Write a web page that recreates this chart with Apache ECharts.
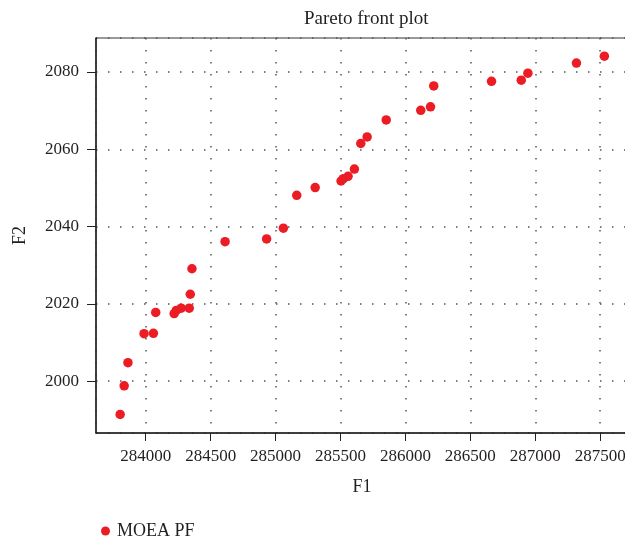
<!DOCTYPE html>
<html>
<head>
    <meta charset="utf-8">
    <style>
        body{ margin:0; padding:0; }
        #chart{ width:625px; height:542px; }
    </style>
</head>
<body>
    <div id="chart"></div>
    <script src="https://cdn.jsdelivr.net/npm/echarts@6/dist/echarts.min.js"></script>
    <script>
        // Pareto front points
        var f1 = [283803, 283834, 283863, 283987, 284059, 284077, 284219, 284235,
                  284273, 284335, 284343, 284356, 284611, 284931, 285060, 285163,
                  285305, 285504, 285522, 285558, 285607, 285656, 285705, 285852,
                  286118, 286193, 286218, 286663, 286892, 286943, 287317, 287532];
        var f2 = [1991.4, 1998.8, 2004.8, 2012.3, 2012.4, 2017.8, 2017.5, 2018.3,
                  2018.9, 2018.9, 2022.5, 2029.1, 2036.1, 2036.8, 2039.6, 2048.1,
                  2050.1, 2051.8, 2052.4, 2053.0, 2054.9, 2061.5, 2063.2, 2067.6,
                  2070.1, 2071.0, 2076.4, 2077.6, 2077.9, 2079.7, 2082.3, 2084.1];
        var seriesName = "MOEA PF";

        var pts = [];
        for (var i = 0; i < f1.length; i++) {
            pts.push([f1[i], f2[i]]);
        }

        var font = "Liberation Serif";
        var txt = "#231f20";
        var dotted = {
            show: true,
            lineStyle: { color: "#555", width: 1.5, type: [1.5, 10.5] }
        };
        function plain(v) { return String(v); }

        var chart = echarts.init(document.getElementById("chart"));
        chart.setOption({
            animation: false,
            title: {
                text: "Pareto front plot",
                left: 299,
                top: 5,
                textStyle: { fontFamily: font, fontSize: 19, fontWeight: "normal", color: txt }
            },
            legend: {
                left: 96,
                top: 517,
                icon: "circle",
                itemWidth: 9,
                itemHeight: 9,
                textStyle: { fontFamily: font, fontSize: 18, color: txt, padding: [0, 0, 0, 2] },
                data: [seriesName]
            },
            grid: {
                left: 96,
                right: -3,
                top: 38,
                bottom: 109,
                outerBoundsMode: "none",
                show: true,
                borderColor: "#333",
                borderWidth: 1
            },
            xAxis: {
                type: "value",
                min: 283617,
                max: 287714,
                splitNumber: 8,
                name: "F1",
                nameLocation: "middle",
                nameGap: 45,
                nameTextStyle: { fontFamily: font, fontSize: 18, color: txt },
                axisLine: { lineStyle: { color: "#222", width: 1.5 } },
                axisTick: { length: 8, lineStyle: { color: "#222" } },
                axisLabel: {
                    showMinLabel: false, showMaxLabel: false,
                    margin: 15,
                    formatter: plain,
                    fontFamily: font, fontSize: 17, color: txt
                },
                splitLine: dotted
            },
            yAxis: {
                type: "value",
                min: 1986.6,
                max: 2088.8,
                splitNumber: 5,
                name: "F2",
                nameLocation: "middle",
                nameGap: 67,
                nameTextStyle: { fontFamily: font, fontSize: 18, color: txt },
                axisLine: { show: true, lineStyle: { color: "#222", width: 1.5 } },
                axisTick: { show: true, length: 9, lineStyle: { color: "#222" } },
                axisLabel: {
                    showMinLabel: false, showMaxLabel: false,
                    margin: 17,
                    formatter: plain,
                    fontFamily: font, fontSize: 17, color: txt
                },
                splitLine: dotted
            },
            series: [{
                name: seriesName,
                type: "scatter",
                symbol: "circle",
                symbolSize: 9.5,
                itemStyle: { color: "#ec1c24", opacity: 1 },
                data: pts
            }]
        });
    </script>
</body>
</html>
